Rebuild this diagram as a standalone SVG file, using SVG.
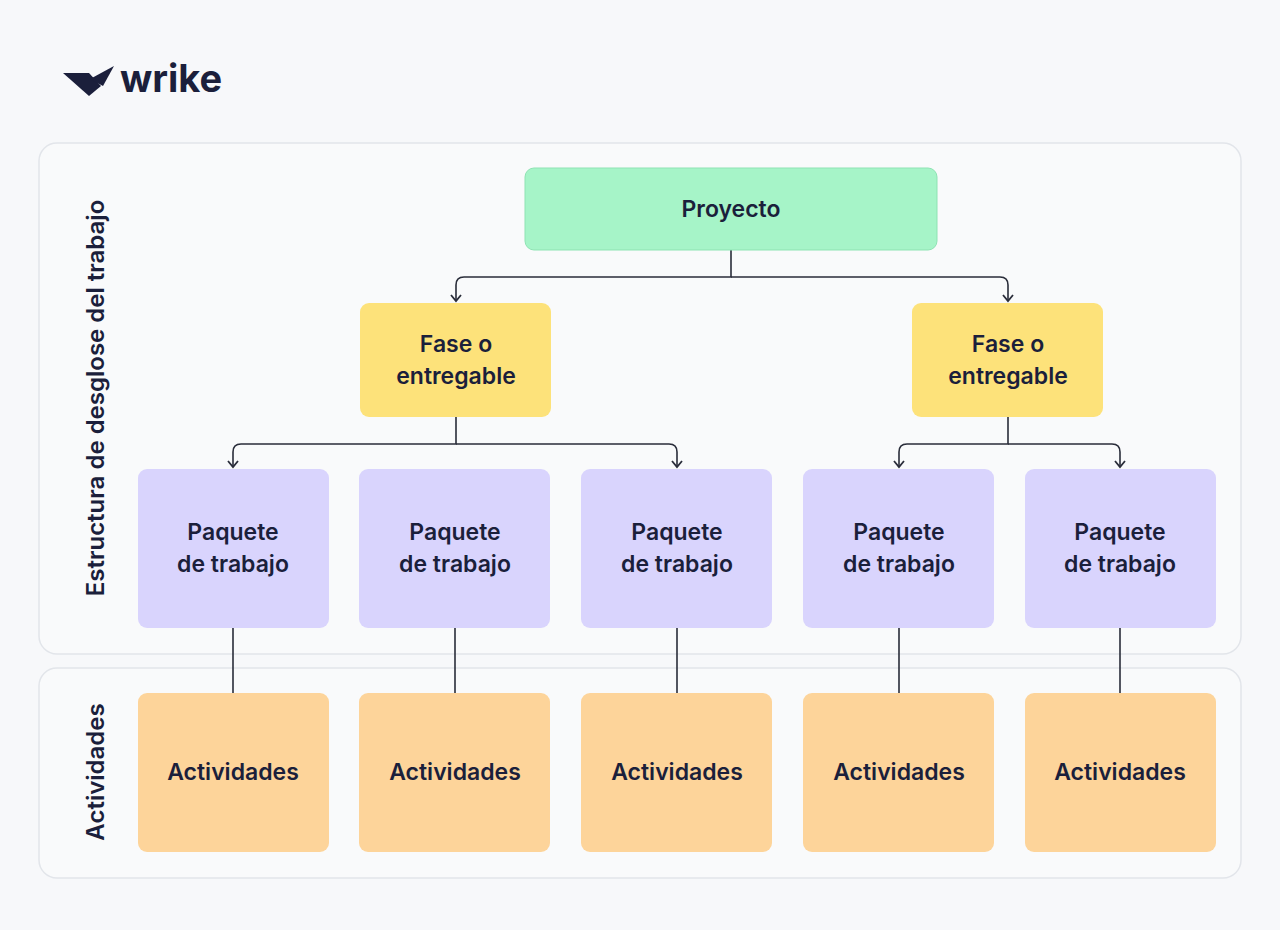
<svg xmlns="http://www.w3.org/2000/svg" width="1280" height="930" viewBox="0 0 1280 930">
<defs>
<style>
.t{font-family:"Inter","Noto Sans",sans-serif;font-weight:600;font-size:23px;fill:#1b1f3b;text-anchor:middle}
.v{font-size:24px}
.pk{fill:#d9d4fd}
.ac{fill:#fdd49a}
.fa{fill:#fde27a}
.c{fill:none;stroke:#2a2d3a;stroke-width:1.6}
.h{fill:none;stroke:#2a2d3a;stroke-width:1.8;stroke-linejoin:miter}
</style>
</defs>
<rect width="1280" height="930" fill="#f7f8fa"/>
<g id="logo">
<polygon points="63,73 89,73 101,86 89,96" fill="#1b1f3b"/>
<polygon points="90,79 114,66 103,86" fill="#1b1f3b"/>
<text x="120" y="92" style="font-family:Inter,sans-serif;font-weight:700;font-size:38px;fill:#1b1f3b">wrike</text>
</g>
<rect x="39" y="143" width="1202" height="511" rx="18" fill="#f9fafb" stroke="#e2e5ea" stroke-width="1.5"/>
<rect x="39" y="668" width="1202" height="210" rx="18" fill="#f9fafb" stroke="#e2e5ea" stroke-width="1.5"/>
<text class="t v" transform="translate(104,398) rotate(-90)">Estructura de desglose del trabajo</text>
<text class="t v" transform="translate(104,772) rotate(-90)">Actividades</text>
<g id="connectors">
<path class="c" d="M731 250 V277 H464 Q456 277 456 285 V301"/>
<path class="c" d="M731 277 H1000 Q1008 277 1008 285 V301"/>
<path class="c" d="M456 417 V444 H241 Q233 444 233 452 V467"/>
<path class="c" d="M456 444 H669 Q677 444 677 452 V467"/>
<path class="c" d="M1008 417 V444 H907 Q899 444 899 452 V467"/>
<path class="c" d="M1008 444 H1112 Q1120 444 1120 452 V467"/>
<path class="c" d="M233 628 V693 M455 628 V693 M677 628 V693 M899 628 V693 M1120 628 V693"/>
<path class="h" d="M451 295 L456 301 L461 295 M1003 295 L1008 301 L1013 295 M228 461 L233 467 L238 461 M672 461 L677 467 L682 461 M894 461 L899 467 L904 461 M1115 461 L1120 467 L1125 461"/>
</g>
<g id="proyecto"><rect x="525" y="168" width="412" height="82" rx="9" fill="#a6f4c8" stroke="#8ee3b3"/><text class="t" x="731" y="217">Proyecto</text></g>
<g id="fase1"><rect x="360" y="303" width="191" height="114" rx="9" class="fa"/><text class="t" x="456" y="352">Fase o</text><text class="t" x="456" y="384">entregable</text></g>
<g id="fase2"><rect x="912" y="303" width="191" height="114" rx="9" class="fa"/><text class="t" x="1008" y="352">Fase o</text><text class="t" x="1008" y="384">entregable</text></g>
<g id="pk1"><rect x="138" y="469" width="191" height="159" rx="9" class="pk"/><text class="t" x="233" y="540">Paquete</text><text class="t" x="233" y="572">de trabajo</text></g>
<g id="pk2"><rect x="359" y="469" width="191" height="159" rx="9" class="pk"/><text class="t" x="455" y="540">Paquete</text><text class="t" x="455" y="572">de trabajo</text></g>
<g id="pk3"><rect x="581" y="469" width="191" height="159" rx="9" class="pk"/><text class="t" x="677" y="540">Paquete</text><text class="t" x="677" y="572">de trabajo</text></g>
<g id="pk4"><rect x="803" y="469" width="191" height="159" rx="9" class="pk"/><text class="t" x="899" y="540">Paquete</text><text class="t" x="899" y="572">de trabajo</text></g>
<g id="pk5"><rect x="1025" y="469" width="191" height="159" rx="9" class="pk"/><text class="t" x="1120" y="540">Paquete</text><text class="t" x="1120" y="572">de trabajo</text></g>
<g id="ac1"><rect x="138" y="693" width="191" height="159" rx="9" class="ac"/><text class="t" x="233" y="780">Actividades</text></g>
<g id="ac2"><rect x="359" y="693" width="191" height="159" rx="9" class="ac"/><text class="t" x="455" y="780">Actividades</text></g>
<g id="ac3"><rect x="581" y="693" width="191" height="159" rx="9" class="ac"/><text class="t" x="677" y="780">Actividades</text></g>
<g id="ac4"><rect x="803" y="693" width="191" height="159" rx="9" class="ac"/><text class="t" x="899" y="780">Actividades</text></g>
<g id="ac5"><rect x="1025" y="693" width="191" height="159" rx="9" class="ac"/><text class="t" x="1120" y="780">Actividades</text></g>
</svg>
